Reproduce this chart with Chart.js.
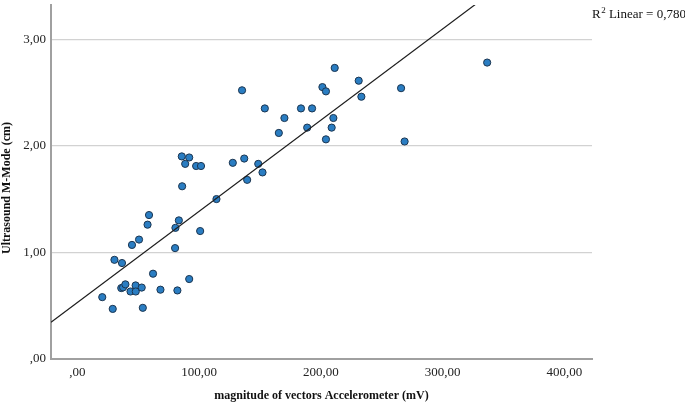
<!DOCTYPE html>
<html>
<head>
<meta charset="utf-8">
<script src="https://cdn.jsdelivr.net/npm/chart.js@4/dist/chart.umd.min.js"></script>
<style>
html,body{margin:0;padding:0;background:#ffffff;}
#wrap{width:685px;height:403px;position:relative;}
canvas{display:block;}
</style>
</head>
<body>
<div id="wrap"><canvas id="c" width="685" height="403"></canvas></div>
<script>
// Data
const accel = [20.4, 29.0, 30.4, 36.6, 36.0, 37.5, 39.4, 43.6, 44.8, 47.8, 47.9, 50.6, 52.8, 53.7,
  57.6, 58.8, 62.1, 68.2, 80.2, 80.5, 82.1, 83.3, 85.7, 86.0, 88.5, 91.8, 91.8, 97.5, 101.5, 100.8,
  114.2, 127.6, 135.2, 137.0, 139.4, 148.5, 152.0, 153.9, 165.4, 170.0, 183.6, 188.7, 192.7, 201.2,
  204.1, 204.1, 208.8, 210.2, 211.3, 231.0, 233.2, 265.8, 268.7, 336.5];
const mmode = [0.58, 0.47, 0.93, 0.90, 0.665, 0.672, 0.70, 0.633, 1.07, 0.69, 0.633, 1.12, 0.67, 0.48,
  1.26, 1.35, 0.80, 0.65, 1.04, 1.23, 0.643, 1.30, 1.90, 1.62, 1.83, 1.89, 0.75, 1.81, 1.81, 1.20,
  1.50, 1.84, 2.52, 1.88, 1.68, 1.83, 1.75, 2.35, 2.12, 2.26, 2.35, 2.17, 2.35, 2.55,
  2.51, 2.06, 2.17, 2.26, 2.73, 2.61, 2.46, 2.54, 2.04, 2.78];

const xTicks = [0, 100, 200, 300, 400];
const xTickLabels = [",00", "100,00", "200,00", "300,00", "400,00"];
const yTicks = [0, 1, 2, 3];
const yTickLabels = [",00", "1,00", "2,00", "3,00"];

const xRange = [-21.7, 422.6];
const yRange = [0, 3.32];

// Linear fit line parameters
const fitIntercept = 0.531;
const fitSlope = 0.00855;
const r2Value = "0,780";

const xTitle = "magnitude of vectors Accelerometer (mV)";
const yTitle = "Ultrasound M-Mode (cm)";

const points = accel.map((x, i) => ({x: x, y: mmode[i]}));
const fitLine = xRange.map(x => ({x: x, y: fitIntercept + fitSlope * x}));

const serif = '"Liberation Serif", "Times New Roman", serif';

const textPlugin = {
  id: 'extraText',
  afterDraw(chart) {
    const ctx = chart.ctx;
    ctx.save();
    ctx.fillStyle = '#111';
    // R² label
    ctx.textBaseline = 'alphabetic';
    ctx.textAlign = 'left';
    let x = 592, y = 18;
    ctx.font = '13px ' + serif;
    ctx.fillText('R', x, y);
    x += ctx.measureText('R').width;
    ctx.font = '9px ' + serif;
    ctx.fillText('2', x + 0.5, y - 5);
    x += ctx.measureText('2').width + 0.5;
    ctx.font = '13px ' + serif;
    ctx.fillText(' Linear = ' + r2Value, x, y);
    // Y axis title
    ctx.translate(7, 188);
    ctx.rotate(-Math.PI / 2);
    ctx.textAlign = 'center';
    ctx.textBaseline = 'middle';
    ctx.font = 'bold 12px ' + serif;
    ctx.fillText(yTitle, 0, 0);
    ctx.restore();
  }
};

new Chart(document.getElementById('c'), {
  type: 'scatter',
  data: {
    datasets: [
      {
        type: 'line',
        data: fitLine,
        borderColor: '#1e1e1e',
        borderWidth: 1.2,
        pointRadius: 0,
        fill: false,
        order: 0
      },
      {
        data: points,
        backgroundColor: '#2a7dc2',
        borderColor: '#1b3550',
        borderWidth: 1,
        pointRadius: 3.6,
        order: 1
      }
    ]
  },
  options: {
    responsive: false,
    animation: false,
    devicePixelRatio: 1,
    layout: { padding: { left: 0, right: 93, top: 0, bottom: 0 } },
    plugins: { legend: { display: false }, tooltip: { enabled: false } },
    scales: {
      x: {
        type: 'linear',
        min: xRange[0],
        max: xRange[1],
        afterBuildTicks: s => { s.ticks = xTicks.map(v => ({value: v})); },
        afterFit: s => { s.height = 44; s.paddingLeft = 0; s.paddingRight = 0; },
        grid: { display: true, color: 'rgba(0,0,0,0)', drawTicks: false },
        border: { display: true, color: '#a0a0a0', width: 2 },
        ticks: {
          padding: 6,
          color: '#222',
          font: { family: serif, size: 13 },
          maxRotation: 0,
          autoSkip: false,
          callback: (v) => { const i = xTicks.indexOf(v); return i >= 0 ? xTickLabels[i] : ''; }
        },
        title: {
          display: true,
          text: xTitle,
          color: '#111',
          font: { family: serif, size: 12, weight: 'bold' },
          padding: { top: 0, bottom: 0 }
        }
      },
      y: {
        type: 'linear',
        min: yRange[0],
        max: yRange[1],
        afterBuildTicks: s => { s.ticks = yTicks.map(v => ({value: v})); },
        afterFit: s => { s.width = 51; s.paddingTop = 0; s.paddingBottom = 0; },
        grid: {
          drawTicks: false,
          lineWidth: 1.2,
          color: (c) => (c.tick && c.tick.value === 0) ? 'rgba(0,0,0,0)' : '#d2d2d2'
        },
        border: { display: true, color: '#a0a0a0', width: 2 },
        ticks: {
          padding: 5,
          color: '#222',
          font: { family: serif, size: 13 },
          autoSkip: false,
          callback: (v) => { const i = yTicks.indexOf(v); return i >= 0 ? yTickLabels[i] : ''; }
        },
        title: { display: false }
      }
    }
  },
  plugins: [textPlugin]
});
</script>
</body>
</html>
